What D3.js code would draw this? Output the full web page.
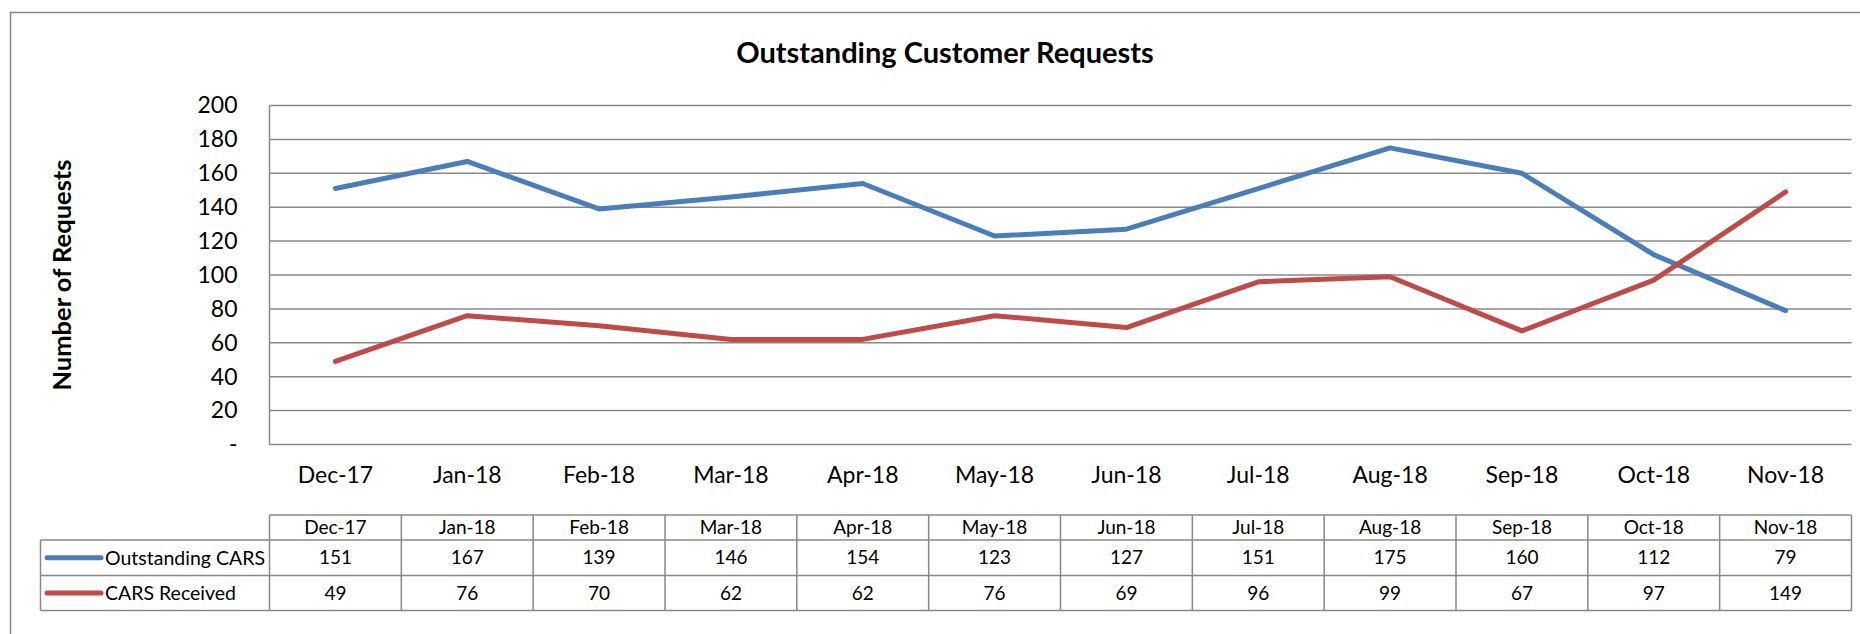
<!DOCTYPE html>
<html>
<head>
<meta charset="utf-8">
<script src="https://cdn.jsdelivr.net/npm/d3@7"></script>
<style>
  html, body { margin: 0; padding: 0; background: #fff; }
  svg { display: block; }
  text { font-family: Lato, "Open Sans", "DejaVu Sans", sans-serif; fill: #000; }
</style>
</head>
<body>
<script>
const categories = ["Dec-17","Jan-18","Feb-18","Mar-18","Apr-18","May-18","Jun-18","Jul-18","Aug-18","Sep-18","Oct-18","Nov-18"];
const outstandingCARS = [151,167,139,146,154,123,127,151,175,160,112,79];
const carsReceived = [49,76,70,62,62,76,69,96,99,67,97,149];
const seriesNames = ["Outstanding CARS","CARS Received"];
const seriesColors = ["#4A7EBB","#BE4B48"];
const yTicks = [0,20,40,60,80,100,120,140,160,180,200];
const title = "Outstanding Customer Requests";
const yTitle = "Number of Requests";

const W = 1860, H = 634;
const plot = { left: 269.5, right: 1851.5, top: 105.5, bottom: 444.5 };
const gridColor = "#888888";

const svg = d3.select("body").append("svg").attr("width", W).attr("height", H);

// outer chart border (extends beyond the visible frame at right/bottom)
svg.append("rect").attr("x", 10.5).attr("y", 12.5).attr("width", W + 20).attr("height", H + 20)
  .attr("fill", "#fff").attr("stroke", gridColor).attr("stroke-width", 1.5);

const x = d3.scaleBand().domain(categories).range([plot.left, plot.right]);
const y = d3.scaleLinear().domain([0, 200]).range([plot.bottom, plot.top]);
const cx = d => x(d) + x.bandwidth() / 2;

// gridlines
svg.append("g").selectAll("line").data(yTicks).join("line")
  .attr("x1", plot.left).attr("x2", plot.right)
  .attr("y1", d => y(d)).attr("y2", d => y(d))
  .attr("stroke", gridColor).attr("stroke-width", 1.5);

// y-axis line
svg.append("line").attr("x1", plot.left).attr("x2", plot.left)
  .attr("y1", plot.top).attr("y2", plot.bottom)
  .attr("stroke", gridColor).attr("stroke-width", 1.5);

// y tick labels
const yAxis = d3.axisLeft(y).tickValues(yTicks).tickSize(0).tickPadding(32)
  .tickFormat(d => d === 0 ? "-" : d3.format("d")(d));
const gy = svg.append("g").attr("transform", `translate(${plot.left},0)`).call(yAxis);
gy.select(".domain").remove();
gy.selectAll("text").style("font-size", "23px").style("font-family", "Lato, sans-serif").attr("fill", "#000");

// x category labels
const xAxis = d3.axisBottom(x).tickSize(0).tickPadding(22);
const gx = svg.append("g").attr("transform", `translate(0,${plot.bottom})`).call(xAxis);
gx.select(".domain").remove();
gx.selectAll("text").style("font-size", "23px").style("font-family", "Lato, sans-serif").attr("fill", "#000");

// lines
const line = d3.line().x((d, i) => cx(categories[i])).y(d => y(d));
[outstandingCARS, carsReceived].forEach((s, k) => {
  svg.append("path").datum(s).attr("d", line)
    .attr("fill", "none").attr("stroke", seriesColors[k]).attr("stroke-width", 5)
    .attr("stroke-linecap", "round").attr("stroke-linejoin", "round");
});

// title
svg.append("text").attr("x", 945).attr("y", 63).attr("text-anchor", "middle")
  .style("font-size", "29px").style("font-weight", "bold").text(title);

// y title
svg.append("text").attr("transform", `translate(71,275) rotate(-90)`).attr("text-anchor", "middle")
  .style("font-size", "25.5px").style("font-weight", "bold").text(yTitle);

// data table
const tbl = { headTop: 515, headBottom: 540, row1Bottom: 575.5, row2Bottom: 610.5, legendLeft: 40.5 };
const tg = svg.append("g");
function hline(x1, x2, yy) { tg.append("line").attr("x1", x1).attr("x2", x2).attr("y1", yy).attr("y2", yy).attr("stroke", gridColor).attr("stroke-width", 1.5); }
function vline(xx, y1, y2) { tg.append("line").attr("x1", xx).attr("x2", xx).attr("y1", y1).attr("y2", y2).attr("stroke", gridColor).attr("stroke-width", 1.5); }
hline(plot.left, plot.right, tbl.headTop);
hline(tbl.legendLeft, plot.right, tbl.headBottom);
hline(tbl.legendLeft, plot.right, tbl.row1Bottom);
hline(tbl.legendLeft, plot.right, tbl.row2Bottom);
vline(tbl.legendLeft, tbl.headBottom, tbl.row2Bottom);
categories.forEach(c => vline(x(c), tbl.headTop, tbl.row2Bottom));
vline(plot.right, tbl.headTop, tbl.row2Bottom);

const rowMid = [(tbl.headTop + tbl.headBottom) / 2, (tbl.headBottom + tbl.row1Bottom) / 2, (tbl.row1Bottom + tbl.row2Bottom) / 2];
tg.selectAll("text.h").data(categories).join("text").attr("class", "h")
  .attr("x", d => cx(d)).attr("y", rowMid[0]).attr("dy", "0.35em").attr("text-anchor", "middle")
  .style("font-size", "19px").text(d => d);
[outstandingCARS, carsReceived].forEach((s, k) => {
  tg.selectAll(`text.v${k}`).data(s).join("text").attr("class", `v${k}`)
    .attr("x", (d, i) => cx(categories[i])).attr("y", rowMid[k + 1]).attr("dy", "0.35em").attr("text-anchor", "middle")
    .style("font-size", "19px").text(d => d);
  tg.append("line").attr("x1", 47).attr("x2", 101).attr("y1", rowMid[k + 1]).attr("y2", rowMid[k + 1])
    .attr("stroke", seriesColors[k]).attr("stroke-width", 5).attr("stroke-linecap", "round");
  tg.append("text").attr("x", 105).attr("y", rowMid[k + 1]).attr("dy", "0.35em")
    .style("font-size", "19.5px").text(seriesNames[k]);
});
</script>
</body>
</html>
